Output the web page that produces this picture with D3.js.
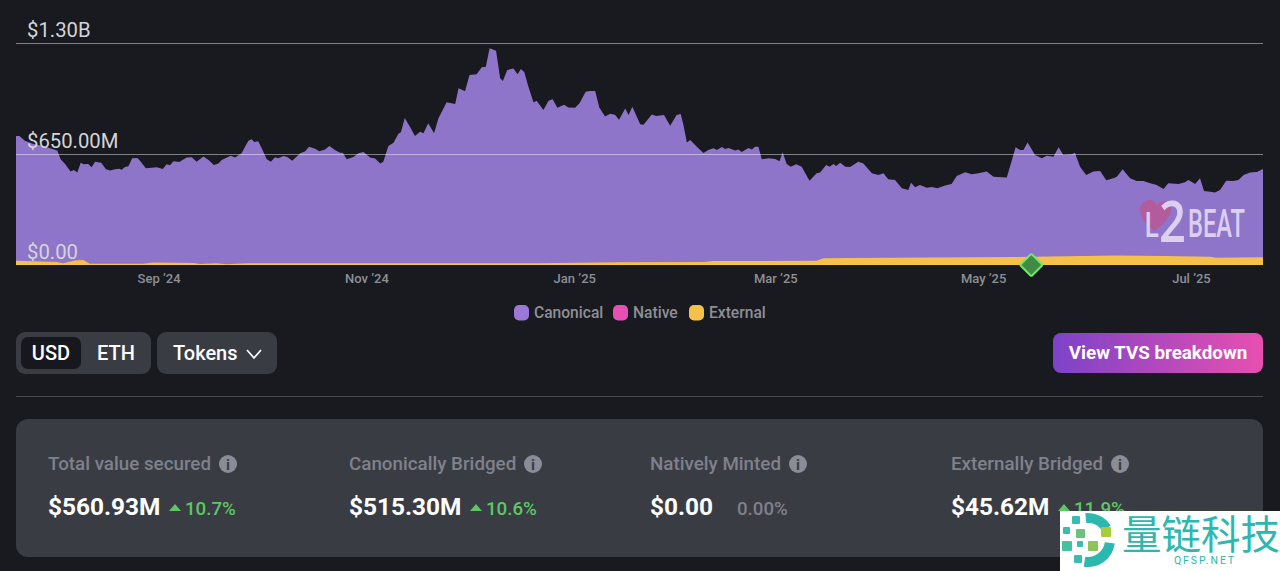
<!DOCTYPE html>
<html>
<head>
<meta charset="utf-8">
<script src="https://cdn.jsdelivr.net/npm/d3@7"></script>
<style>
  html, body { margin: 0; padding: 0; background: #191a1f; }
  svg { display: block; font-family: Roboto, sans-serif; }
</style>
</head>
<body>
<div id="chart"></div>
<script>
// Data: day = days after 21 Jul 2024, values in $M
var totalDays = [0,1,2.6,5.1,8,12.1,13.1,14.4,16,17,18,19,19.8,21.2,22.2,23.2,25,26.4,27.6,29.1,30.3,31,32,33,34.1,35.6,36.4,38.1,39.8,41.3,43.1,44.2,45.2,46.2,47.9,50.1,51.6,53,55,56.5,58.1,59.4,60.4,63,64.3,66.2,68.2,69.2,69.9,71.1,72.1,73.6,74.8,76,77,78.5,79.6,81.1,83.4,84.8,86,87.8,89,90.7,92,93.6,95.1,95.9,97.1,99,100.5,102,103.9,105.4,106.9,107.8,109.3,110.8,112.2,113,114.1,115.7,117.1,118.6,
  119.6,121,122.7,124,126.4,128.9,129.9,131.8,133.1,135.2,136.7,137.9,139,140.9,142.1,142.9,144.2,146,147.2,148.2,149.2,150.4,151.9,152.8,154.8,156.3,157.5,158.9,160.9,162.1,164.1,165.4,167.2,168.5,170,171.2,172.9,174.4,175.8,177,178.8,179.8,180.9,183.2,184.2,186.6,187.9,190.2,192,193.9,195.1,195.9,196.9,197.9,199.8,201.8,203.2,204.7,205.7,207.2,208.1,209.1,211.1,212,213,215,216,216.9,217.9,218.9,220.9,222.8,224.1,225,226.2,227.4,229,230.6,232.9,235,236,237.8,238.8,239.9,240.7,241.9,243.4,244.8,
  247.2,248.7,251.2,253.1,254.6,256,258,260,261.9,262.7,263.9,265.3,267.3,268.8,270.4,272.7,274.6,276.1,278.6,280.5,282.5,284.9,286.9,290.8,293.4,294.7,295.7,296.9,299.1,301.1,302.5,304.5,306,307.4,309.9,310.8,312.3,314.1,316.2,318.2,320,322.1,323.1,324.8,327,328.9,330.9,332.9,334.8,336.8,338.2,341.2,343.1,344.1,346.1,347.5,348.7,350.5,351.9,353.4,355.2,357.3,358.8,360.3,362.2,364.2,366];
var totalValues = [755,755,728,709,697,670,619,591,547,556,541,599,590,591,572,605,599,560,554,560,564,558,574,578,625,627,611,566,570,572,562,590,584,607,603,629,631,605,636,615,586,595,615,640,629,654,728,736,720,724,683,619,605,631,625,638,632,611,654,664,693,681,666,677,697,673,658,658,619,632,654,662,629,623,595,605,697,716,767,779,861,806,755,781,
  771,830,771,859,953,943,1035,1017,1113,1117,1158,1161,1269,1255,1093,1078,1142,1150,1117,1148,1128,1044,951,962,908,962,970,921,939,923,921,947,1015,1019,1019,923,869,886,880,851,917,878,927,824,822,882,873,878,816,878,884,820,718,732,693,656,673,683,673,691,679,685,670,677,662,685,677,693,693,619,625,621,607,660,591,576,590,576,494,537,541,586,576,591,580,599,576,574,
  605,595,537,527,537,502,498,449,439,482,455,468,453,457,449,465,474,521,543,531,537,547,517,513,689,673,673,718,644,625,640,634,689,644,648,658,576,527,547,550,496,508,517,560,508,492,492,478,468,445,478,474,484,498,474,508,433,429,424,439,494,492,498,527,541,545,562];
var externalDays = [0,11.9,13.9,15.4,17.3,19.8,21.7,24.7,37.4,40.3,52.1,54,58.9,61.8,67.7,121.5,152.8,177.3,201.8,204.7,235,237,244.8,293.7,323.1,336.8,350.5,352.4,366];
var externalValues = [25,18,10,18,27,29,8,8,8,14,12,6,10,4,10,10,10,16,18,23,25,39,41,47,55,53,49,43,46];
var milestoneDays = [298];

var yTicks = [0, 650, 1300];
var yTickLabels = ["$0.00", "$650.00M", "$1.30B"];
var xTickDates = ["2024-09-01", "2024-11-01", "2025-01-01", "2025-03-01", "2025-05-01", "2025-07-01"];
var xTickLabels = ["Sep \u201924", "Nov \u201924", "Jan \u201925", "Mar \u201925", "May \u201925", "Jul \u201925"];

var legendNames = ["Canonical", "Native", "External"];
var legendColors = ["#9a78d8", "#e64fb4", "#f6c14a"];
var legendX = [514, 613, 689];

var statLabels = ["Total value secured", "Canonically Bridged", "Natively Minted", "Externally Bridged"];
var statValues = ["$560.93M", "$515.30M", "$0.00", "$45.62M"];
var statChanges = ["10.7%", "10.6%", "0.00%", "11.9%"];
var statUp = [true, true, false, true];
var statX = [48, 349, 650, 951];
var infoX = [228, 533, 798, 1120];
var arrowX = [175, 476, 0, 1064];
var changeX = [185, 486, 737, 1074];

var svgWidth = 1280, svgHeight = 571;
var margin = { top: 43, right: 17, bottom: 306, left: 16 };
var width = svgWidth - margin.left - margin.right;
var height = svgHeight - margin.top - margin.bottom;

var svg = d3.select("#chart").append("svg")
  .attr("width", svgWidth)
  .attr("height", svgHeight);

var defs = svg.append("defs");
var grad = defs.append("linearGradient").attr("id", "btn");
grad.append("stop").attr("offset", "0%").attr("stop-color", "#7c43c8");
grad.append("stop").attr("offset", "100%").attr("stop-color", "#e84fb0");

var chartGroup = svg.append("g")
  .attr("transform", `translate(${margin.left}, ${margin.top})`);

var startDate = new Date(2024, 6, 21);
var dayMs = 24 * 3600 * 1000;
var parseDay = d3.timeParse("%Y-%m-%d");

var x = d3.scaleTime()
  .domain([startDate, new Date(startDate.getTime() + 366 * dayMs)])
  .range([0, width]);
var y = d3.scaleLinear()
  .domain([0, 1300])
  .range([height, 0]);

function dayToDate(d) { return new Date(startDate.getTime() + d * dayMs); }

var area = d3.area()
  .x(function(d) { return x(dayToDate(d[0])); })
  .y0(height)
  .y1(function(d) { return y(d[1]); });

// Canonical sits on top of external, so total is drawn first and external over it
chartGroup.append("path")
  .datum(d3.zip(totalDays, totalValues))
  .attr("fill", "#8f75c9")
  .attr("d", area);

chartGroup.append("path")
  .datum(d3.zip(externalDays, externalValues))
  .attr("fill", "#f6c14a")
  .attr("d", area);

// L2BEAT watermark
var logo = chartGroup.append("g").attr("transform", "translate(1123, 155)");
var logoInk = "#dccff0";
logo.append("path")
  .attr("d", "M16,33 C8,27 1,21 1,12 C1,6 6,2 11,2 C14,2 16,4 18,7 C20,4 23,3 26,3 C30,3 33,8 32,13 C30,21 23,27 16,33 Z")
  .attr("fill", "#b25b9d");
logo.append("text").attr("x", 5).attr("y", 38.5).attr("font-size", 34)
  .attr("font-family", "'Open Sans'").attr("font-weight", 600).attr("fill", logoInk)
  .attr("textLength", 15).attr("lengthAdjust", "spacingAndGlyphs").text("L");
logo.append("text").attr("x", 20).attr("y", 44).attr("font-size", 58)
  .attr("font-family", "'Open Sans'").attr("font-weight", 600).attr("fill", logoInk)
  .attr("textLength", 27).attr("lengthAdjust", "spacingAndGlyphs").text("2");
logo.append("text").attr("x", 49).attr("y", 39).attr("font-size", 38).attr("font-family", "Roboto")
  .attr("font-weight", 500).attr("fill", logoInk)
  .attr("textLength", 57).attr("lengthAdjust", "spacingAndGlyphs").text("BEAT");

// Y gridlines and labels
var yAxis = chartGroup.append("g")
  .call(d3.axisLeft(y)
    .tickValues(yTicks)
    .tickSize(-width)
    .tickFormat(function(d, i) { return yTickLabels[i]; }));
yAxis.select(".domain").remove();
yAxis.selectAll("line").attr("stroke", "#fff").attr("stroke-opacity", 0.45);
yAxis.selectAll("line").filter(function(d) { return d === 0; }).attr("stroke-opacity", 0);
yAxis.selectAll("text")
  .attr("x", 11)
  .attr("dy", -7)
  .attr("text-anchor", "start")
  .attr("font-family", "Roboto")
  .attr("font-size", 20.3)
  .attr("fill", "#d4d4da");

// X axis
var xAxis = chartGroup.append("g")
  .attr("transform", "translate(0," + height + ")")
  .call(d3.axisBottom(x)
    .tickValues(xTickDates.map(parseDay))
    .tickSize(0)
    .tickPadding(9)
    .tickFormat(function(d, i) { return xTickLabels[i]; }));
xAxis.select(".domain").remove();
xAxis.selectAll("text")
  .attr("dx", -0.5)
  .attr("font-family", "Roboto")
  .attr("font-size", 13)
  .attr("font-weight", 500)
  .attr("fill", "#8d8f97");

// Milestone marker
chartGroup.selectAll(".milestone")
  .data(milestoneDays)
  .enter()
  .append("rect")
  .attr("class", "milestone")
  .attr("x", -8)
  .attr("y", -8)
  .attr("width", 16)
  .attr("height", 16)
  .attr("rx", 1.5)
  .attr("transform", function(d) { return "translate(" + x(dayToDate(d)) + "," + height + ") rotate(45)"; })
  .attr("fill", "#3f8a47")
  .attr("stroke", "#74e66d")
  .attr("stroke-width", 2);

// Legend
var legend = svg.selectAll(".legend")
  .data(legendNames)
  .enter()
  .append("g")
  .attr("class", "legend")
  .attr("transform", function(d, i) { return "translate(" + legendX[i] + ",305)"; });
legend.append("rect")
  .attr("width", 15).attr("height", 15.5).attr("rx", 5)
  .attr("fill", function(d, i) { return legendColors[i]; });
legend.append("text")
  .attr("x", 20).attr("y", 13)
  .attr("font-size", 15.6)
  .attr("font-weight", 500)
  .attr("fill", "#8d8f97")
  .text(function(d) { return d; });

// Controls
svg.append("rect").attr("x", 16).attr("y", 332).attr("width", 135).attr("height", 42).attr("rx", 9).attr("fill", "#3a3c43");
svg.append("rect").attr("x", 21).attr("y", 337).attr("width", 60).attr("height", 32).attr("rx", 7).attr("fill", "#17181e");
svg.append("rect").attr("x", 157).attr("y", 332).attr("width", 120).attr("height", 42).attr("rx", 9).attr("fill", "#3a3c43");
svg.append("text").attr("x", 51).attr("y", 360).attr("text-anchor", "middle").attr("font-size", 20).attr("font-weight", 500).attr("fill", "#fff").text("USD");
svg.append("text").attr("x", 116).attr("y", 360).attr("text-anchor", "middle").attr("font-size", 20).attr("font-weight", 500).attr("fill", "#fff").text("ETH");
svg.append("text").attr("x", 173).attr("y", 360).attr("font-size", 20).attr("font-weight", 500).attr("fill", "#fff").text("Tokens");
svg.append("path").attr("d", "M247,350 L254,358 L261,350").attr("fill", "none").attr("stroke", "#fff").attr("stroke-width", 1.8);

svg.append("rect").attr("x", 1053).attr("y", 333).attr("width", 210).attr("height", 40).attr("rx", 8).attr("fill", "url(#btn)");
svg.append("text").attr("x", 1158).attr("y", 359).attr("text-anchor", "middle").attr("font-size", 18.8).attr("font-weight", 700).attr("fill", "#fff").text("View TVS breakdown");

svg.append("line").attr("x1", 16).attr("x2", 1263).attr("y1", 396.5).attr("y2", 396.5).attr("stroke", "#45474e");

// Stats panel
svg.append("rect").attr("x", 16).attr("y", 419).attr("width", 1247).attr("height", 138).attr("rx", 12).attr("fill", "#3a3c43");

var stats = svg.selectAll(".stat")
  .data(statLabels)
  .enter()
  .append("g")
  .attr("class", "stat");
stats.append("text")
  .attr("x", function(d, i) { return statX[i]; })
  .attr("y", 470)
  .attr("font-size", 18.8)
  .attr("font-weight", 500)
  .attr("fill", "#7f818c")
  .text(function(d) { return d; });
stats.append("circle")
  .attr("cx", function(d, i) { return infoX[i]; })
  .attr("cy", 464)
  .attr("r", 9)
  .attr("fill", "#8a8c97");
stats.append("text")
  .attr("x", function(d, i) { return infoX[i]; })
  .attr("y", 469.5)
  .attr("text-anchor", "middle")
  .attr("font-size", 15)
  .attr("font-weight", 700)
  .attr("fill", "#3a3c43")
  .text("i");
stats.append("text")
  .attr("x", function(d, i) { return statX[i]; })
  .attr("y", 515)
  .attr("font-size", 24.4)
  .attr("font-weight", 700)
  .attr("fill", "#fff")
  .text(function(d, i) { return statValues[i]; });
stats.filter(function(d, i) { return statUp[i]; })
  .append("path")
  .attr("d", function(d) { var ax = arrowX[statLabels.indexOf(d)]; return "M" + (ax - 6) + ",511 L" + ax + ",504 L" + (ax + 6) + ",511 Z"; })
  .attr("fill", "#5cc763");
stats.append("text")
  .attr("x", function(d, i) { return changeX[i]; })
  .attr("y", 515)
  .attr("font-size", 18.7)
  .attr("font-weight", 500)
  .attr("fill", function(d, i) { return statUp[i] ? "#5cc763" : "#7f818c"; })
  .text(function(d, i) { return statChanges[i]; });

// Site stamp in the corner
var stamp = svg.append("g").attr("transform", "translate(1060, 511)");
stamp.append("rect").attr("width", 220).attr("height", 60).attr("fill", "#fff");
var ring = d3.arc().innerRadius(17).outerRadius(27);
stamp.append("path")
  .attr("transform", "translate(28,29)")
  .attr("d", ring({ startAngle: -0.1, endAngle: 1.0 }))
  .attr("fill", "#2cb8ae");
stamp.append("path")
  .attr("transform", "translate(28,29)")
  .attr("d", ring({ startAngle: 1.7, endAngle: 3.3 }))
  .attr("fill", "#2cb8ae");
var squares = stamp.selectAll(".sq")
  .data([[12,5,8,"#3cbcb0"],[3,16,7,"#3cbcb0"],[16,18,9,"#6fc07a"],[41,16,10,"#a8cc3c"],[2,30,10,"#45c0a0"],[17,30,6,"#3cbcb0"],[28,30,10,"#8cc45a"],[14,44,8,"#3cbcb0"]])
  .enter()
  .append("rect")
  .attr("class", "sq")
  .attr("x", function(d) { return d[0]; })
  .attr("y", function(d) { return d[1]; })
  .attr("width", function(d) { return d[2]; })
  .attr("height", function(d) { return d[2]; })
  .attr("rx", 1)
  .attr("fill", function(d) { return d[3]; });
stamp.append("text").attr("x", 62).attr("y", 38).attr("font-size", 39.5)
  .attr("font-family", "'Noto Sans CJK SC'").attr("fill", "#2cb8ae").text("量链科技");
stamp.append("text").attr("x", 114).attr("y", 52.5).attr("font-size", 10.5)
  .attr("letter-spacing", 1.9).attr("fill", "#2cb8ae").text("QFSP.NET");
</script>
</body>
</html>
